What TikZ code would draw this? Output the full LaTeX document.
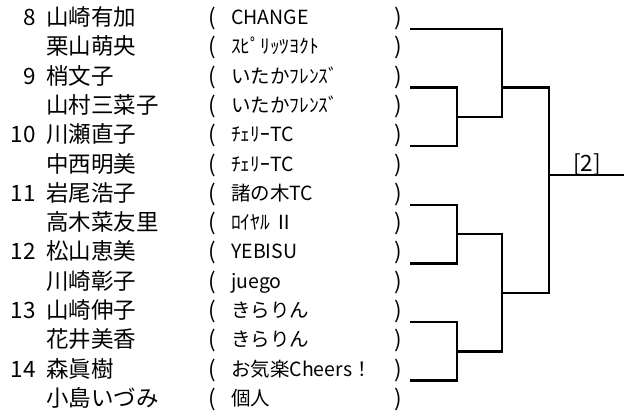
\documentclass[tikz,border=0pt]{standalone}
\usepackage{fontspec}
\setmainfont{Noto Sans CJK JP}
\usepackage{tikz}
\usetikzlibrary{positioning}
\tikzset{
  bracket/.style={line width=2.4pt, black},
  player/.style={anchor=base west},
  club/.style={anchor=base west, font=\fontsize{19.5}{22}\selectfont},
  seed/.style={anchor=base east}
}

\begin{document}
\begin{tikzpicture}[
        x=1pt, y=-1pt,
        every node/.style={inner sep=0pt, font=\fontsize{22.5}{26}\selectfont}
    ]
        \useasboundingbox (0,0) rectangle (624,412);

        % Players, clubs
        \foreach \r/\nm/\tm in {1/山崎有加/CHANGE, 2/栗山萌央/ｽﾋﾟﾘｯﾂﾖｸﾄ,
            3/梢文子/いたかﾌﾚﾝｽﾞ, 4/山村三菜子/いたかﾌﾚﾝｽﾞ, 5/川瀬直子/ﾁｪﾘｰTC,
            6/中西明美/ﾁｪﾘｰTC, 7/岩尾浩子/諸の木TC, 8/高木菜友里/ﾛｲﾔﾙ Ⅱ,
            9/松山恵美/YEBISU, 10/川崎彰子/juego, 11/山崎伸子/きらりん,
            12/花井美香/きらりん, 13/森眞樹/お気楽Cheers！, 14/小島いづみ/個人} {
            \node[player] (name\r) at (46,{25.5+29.3*(\r-1)}) {\nm};
            \node[player] (lp\r) at (208,{25.5+29.3*(\r-1)}) {(};
            \node[club] (club\r) at (231,{24.5+29.3*(\r-1)}) {\tm};
            \node[player] (rp\r) at (394,{25.5+29.3*(\r-1)}) {)};
        }

        % Seed numbers
        \foreach \k in {8,...,14} {
            \node[seed] (no\k) at (36,{25.5+58.6*(\k-8)}) {\k};
        }

        % Bracket ends
        \foreach \k in {8,...,14} {
            \coordinate (e\k) at (410,{29+58.6*(\k-8)});
        }
        \coordinate (s1) at (457,116.9);
        \coordinate (s2) at (457,234.1);
        \coordinate (s3) at (457,351.3);
        \coordinate (u1) at (502,116.9);
        \coordinate (t1) at (502,87.6);
        \coordinate (t2) at (502,292.7);
        \coordinate (fin) at (549,175);
        \coordinate (win) at (624,175);

        % Connect
        \draw[bracket] (e9) -| (s1) |- (e10);
        \draw[bracket] (e11) -| (s2) |- (e12);
        \draw[bracket] (e13) -| (s3) |- (e14);
        \draw[bracket] (e8) -| (u1) -- (s1);
        \draw[bracket] (s2) -| (t2) |- (s3);
        \draw[bracket] (t1) -| (fin) |- (t2);
        \draw[bracket] (fin) -- (win);

        % Result
        \node[anchor=base] (res) at (587,171) {[2]};
    \end{tikzpicture}
\end{document}
